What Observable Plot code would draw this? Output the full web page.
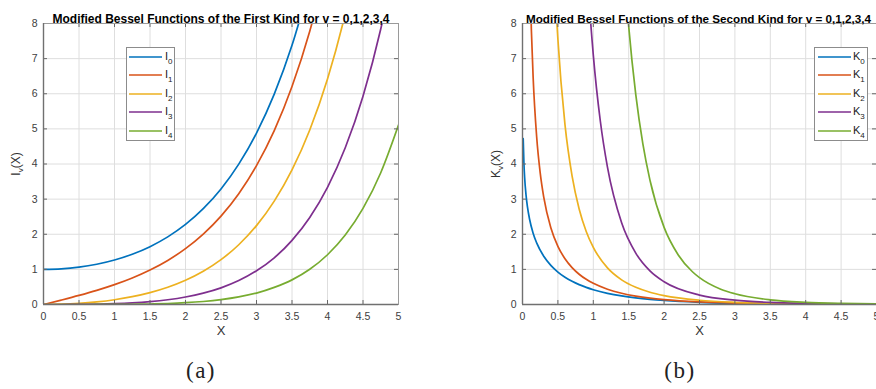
<!DOCTYPE html>
<html>
<head>
<meta charset="utf-8">
<script src="https://cdn.jsdelivr.net/npm/d3@7"></script>
<script src="https://cdn.jsdelivr.net/npm/@observablehq/plot@0.6"></script>
<style>
  body { margin: 0; background: #fff; }
  #wrap { position: relative; width: 876px; height: 389px; overflow: hidden; background: #fff;
          font-family: "Liberation Sans", Arial, sans-serif; }
  .panel { position: absolute; top: 0; }
  .ylab { position: absolute; transform: translate(-50%, -50%) rotate(-90deg); font-size: 12px;
          color: #333; white-space: nowrap; }
  .ylab sub { font-size: 8px; vertical-align: -3px; }
  .legend { position: absolute; border: 1px solid #8c8c8c; background: #fff; box-sizing: border-box; }
  .legend .lbl { position: absolute; top: -6px; font-size: 11px; color: #222; white-space: nowrap; }
  .legend .lbl sub { font-size: 8px; vertical-align: -4px; }
  .cap { position: absolute; font-family: "Liberation Serif", "Times New Roman", serif; font-size: 23px;
         font-weight: normal; color: #222; transform: translate(-50%, 0); white-space: nowrap; letter-spacing: 1.5px; }
</style>
</head>
<body>
<div id="wrap"></div>
<script>
// ---------- data ----------
const seriesColors = ["#0072BD", "#D95319", "#EDB120", "#7E2F8E", "#77AC30"];
const xTicks = [0, 0.5, 1, 1.5, 2, 2.5, 3, 3.5, 4, 4.5, 5];
const yTicks = [0, 1, 2, 3, 4, 5, 6, 7, 8];

const titleA = "Modified Bessel Functions of the First Kind for v = 0,1,2,3,4";
const titleB = "Modified Bessel Functions of the Second Kind for v = 0,1,2,3,4";
const namesI = ["I0", "I1", "I2", "I3", "I4"];
const namesK = ["K0", "K1", "K2", "K3", "K4"];

// first kind: shared x grid
const xI = [0, 0.25, 0.5, 0.75, 1, 1.25, 1.5, 1.75, 2, 2.25, 2.5, 2.75, 3, 3.25, 3.5, 3.75, 4, 4.25, 4.5, 4.75, 5];
const I0 = [1, 1.0157, 1.0635, 1.1456, 1.2661, 1.4305, 1.6467, 1.9253, 2.2796, 2.7271, 3.2898, 3.9959, 4.8808, 5.9893, 7.3782, 9.1189];
const I1 = [0, 0.1260, 0.2579, 0.4020, 0.5652, 0.7553, 0.9817, 1.2555, 1.5906, 2.0040, 2.5167, 3.1554, 3.9534, 4.9509, 6.2058, 7.7800, 9.7595];
const I2 = [0, 0.0079, 0.0319, 0.0737, 0.1357, 0.2220, 0.3378, 0.4903, 0.6889, 0.9458, 1.2765, 1.7011, 2.2452, 2.9426, 3.8320, 4.9696, 6.4222, 8.2761, 10.6415];
const I3 = [0, 0.0003, 0.0026, 0.0091, 0.0222, 0.0448, 0.0808, 0.1347, 0.2127, 0.3226, 0.4744, 0.6811, 0.9598, 1.3292, 1.8264, 2.4791, 3.3373, 4.4616, 5.9301, 7.8435, 10.3312];
const I4 = [0, 0.0000, 0.0002, 0.0008, 0.0027, 0.0069, 0.0147, 0.0284, 0.0507, 0.0855, 0.1380, 0.2150, 0.3257, 0.4886, 0.7011, 1.0030, 1.4163, 1.9775, 2.7347, 3.7509, 5.1082];

// second kind: each series with its own x samples
const xK0 = [0.01, 0.02, 0.03, 0.05, 0.07, 0.1, 0.15, 0.2, 0.3, 0.4, 0.5, 0.6, 0.7, 0.8, 0.9, 1, 1.2, 1.4, 1.6, 1.8, 2, 2.5, 3, 3.5, 4, 4.5, 5];
const K0 = [4.7212, 4.0285, 3.6227, 3.1142, 2.7798, 2.4271, 2.0300, 1.7527, 1.3725, 1.1145, 0.9244, 0.7775, 0.6605, 0.5653, 0.4867, 0.4210, 0.3185, 0.2437, 0.1880, 0.1459, 0.1139, 0.0623, 0.0347, 0.0196, 0.0112, 0.0064, 0.0037];
const xK1 = [0.1, 0.125, 0.15, 0.2, 0.25, 0.3, 0.4, 0.5, 0.6, 0.7, 0.8, 0.9, 1, 1.2, 1.4, 1.6, 1.8, 2, 2.5, 3, 3.5, 4, 4.5, 5];
const K1 = [9.8538, 7.8315, 6.4782, 4.7760, 3.7470, 3.0560, 2.1844, 1.6564, 1.3028, 1.0503, 0.8618, 0.7165, 0.6019, 0.4346, 0.3208, 0.2406, 0.1826, 0.1399, 0.0739, 0.0402, 0.0222, 0.0125, 0.0071, 0.0040];
const xK2 = [0.4, 0.45, 0.5, 0.6, 0.7, 0.8, 0.9, 1, 1.2, 1.4, 1.6, 1.8, 2, 2.5, 3, 3.5, 4, 4.5, 5];
const K2 = [12.0365, 9.4199, 7.5500, 5.1202, 3.6614, 2.7198, 2.0789, 1.6248, 1.0428, 0.7020, 0.4888, 0.3488, 0.2538, 0.1215, 0.0615, 0.0323, 0.0174, 0.0095, 0.0053];
const xK3 = [0.8, 0.9, 1, 1.1, 1.2, 1.4, 1.6, 1.8, 2, 2.5, 3, 3.5, 4, 4.5, 5];
const K3 = [14.461, 9.956, 7.1013, 5.2098, 3.9107, 2.3265, 1.4625, 0.9577, 0.6474, 0.2682, 0.1222, 0.0592, 0.0299, 0.0156, 0.0083];
const xK4 = [1.4, 1.5, 1.6, 1.7, 1.8, 2, 2.2, 2.4, 2.5, 2.8, 3, 3.5, 4, 4.5, 5];
const K4 = [10.6727, 7.9191, 5.9731, 4.5711, 3.5411, 2.1960, 1.4107, 0.9326, 0.7652, 0.4358, 0.3059, 0.1337, 0.0622, 0.0303, 0.0153];

// ---------- build tables ----------
const dataI = [];
[I0, I1, I2, I3, I4].forEach((ys, s) => ys.forEach((y, i) => dataI.push({series: namesI[s], x: xI[i], y})));
const dataK = [];
[[xK0, K0], [xK1, K1], [xK2, K2], [xK3, K3], [xK4, K4]].forEach(([xs, ys], s) =>
  ys.forEach((y, i) => dataK.push({series: namesK[s], x: xs[i], y})));

const H = 345, MT = 23, MB = 41;

function panel({data, names, title, titleSize, titleDx, width, marginLeft, marginRight}) {
  const iw = width - marginLeft - marginRight;
  const ih = H - MT - MB;
  return Plot.plot({
    width, height: H, marginLeft, marginRight, marginTop: MT, marginBottom: MB,
    x: {domain: [0, 5]},
    y: {domain: [0, 8]},
    color: {domain: names, range: seriesColors},
    style: {fontFamily: "'Liberation Sans', Arial, sans-serif", fontSize: "10px", color: "#404040", background: "transparent", overflow: "visible"},
    marks: [
      Plot.gridX(xTicks, {stroke: "#dedede", strokeOpacity: 1}),
      Plot.gridY(yTicks, {stroke: "#dedede", strokeOpacity: 1}),
      Plot.line(data, {x: "x", y: "y", z: "series", stroke: "series", strokeWidth: 1.7, curve: "monotone-x", clip: true}),
      Plot.tickX(xTicks, {x: d => d, insetTop: ih - 4, stroke: "#666"}),
      Plot.tickX(xTicks, {x: d => d, insetBottom: ih - 4, stroke: "#666"}),
      Plot.tickY(yTicks, {y: d => d, insetRight: iw - 4, stroke: "#666"}),
      Plot.tickY(yTicks, {y: d => d, insetLeft: iw - 4, stroke: "#666"}),
      Plot.frame({stroke: "#9a9a9a"}),
      Plot.ruleX([0], {stroke: "#707070", strokeWidth: 1.4}),
      Plot.ruleY([0], {stroke: "#707070", strokeWidth: 1.4}),
      Plot.axisX(xTicks, {tickSize: 0, tickPadding: 8, tickFormat: d => String(d), label: null, fontSize: 10.5}),
      Plot.axisY(yTicks, {tickSize: 0, tickPadding: 6, tickFormat: d => String(d), label: null, fontSize: 10.5}),
      Plot.text([title], {frameAnchor: "top", dy: -9, dx: titleDx, fontWeight: "bold", fontSize: titleSize, fill: "#000"}),
      Plot.text(["X"], {frameAnchor: "bottom", dy: 30, fontSize: 13, fill: "#333"})
    ]
  });
}

const wrap = document.getElementById("wrap");
function place(node, left, width) {
  const d = document.createElement("div");
  d.className = "panel";
  d.style.left = left + "px";
  d.style.width = width + "px";
  d.appendChild(node);
  wrap.appendChild(d);
}
place(panel({data: dataI, names: namesI, title: titleA, titleSize: 12, titleDx: 0, width: 440, marginLeft: 43, marginRight: 42}), 0, 440);
place(panel({data: dataK, names: namesK, title: titleB, titleSize: 11.7, titleDx: -1, width: 436, marginLeft: 82, marginRight: 0}), 440, 436);

// y-axis labels
function ylab(letter, x, y) {
  const d = document.createElement("div");
  d.className = "ylab";
  d.style.left = x + "px";
  d.style.top = y + "px";
  d.innerHTML = letter + "<sub>v</sub>(X)";
  wrap.appendChild(d);
}
ylab("I", 17, 164);
ylab("K", 497, 164);

// legends
function legend(names, left, top, width, lineX0, lineX1, labelX) {
  const box = document.createElement("div");
  box.className = "legend";
  box.style.left = left + "px"; box.style.top = top + "px";
  box.style.width = width + "px"; box.style.height = "94px";
  names.forEach((n, i) => {
    const cy = 9 + i * 18.4;
    const svg = d3.create("svg").attr("width", width).attr("height", 4)
      .style("position", "absolute").style("left", "0px").style("top", (cy - 2) + "px");
    svg.append("line").attr("x1", lineX0).attr("x2", lineX1).attr("y1", 2).attr("y2", 2)
      .attr("stroke", seriesColors[i]).attr("stroke-width", 1.6);
    box.appendChild(svg.node());
    const lbl = document.createElement("div");
    lbl.className = "lbl";
    lbl.style.left = labelX + "px";
    lbl.style.top = (cy - 7) + "px";
    lbl.innerHTML = n[0] + "<sub>" + n.slice(1) + "</sub>";
    box.appendChild(lbl);
  });
  wrap.appendChild(box);
}
legend(namesI, 126, 47, 49, 2, 35, 38);
legend(namesK, 814, 47, 54, 3, 36, 38);

// captions
function cap(text, cx) {
  const d = document.createElement("div");
  d.className = "cap";
  d.style.left = cx + "px";
  d.style.top = "358px";
  d.textContent = text;
  wrap.appendChild(d);
}
cap("(a)", 201);
cap("(b)", 680);
</script>
</body>
</html>
